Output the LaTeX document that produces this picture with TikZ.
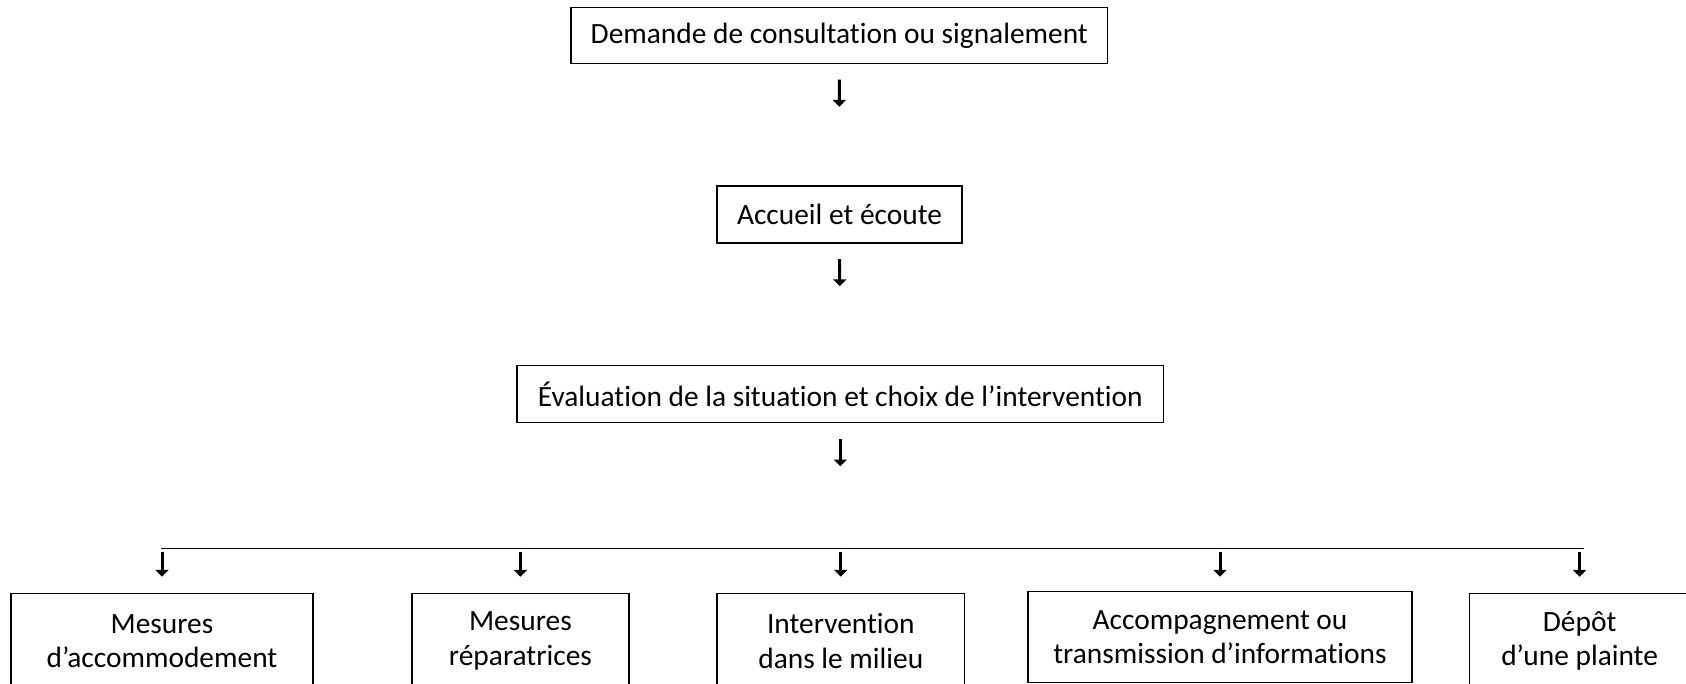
\documentclass[tikz,border=0pt]{standalone}
\usepackage{fontspec}
\setmainfont[Ligatures=NoCommon]{Carlito}
\usetikzlibrary{arrows.meta}
\begin{document}
\begin{tikzpicture}[x=1pt,y=-1pt,
  box/.style={draw,line width=0.6pt,rectangle,inner sep=0pt,align=center,
    font=\fontsize{14.7pt}{17.25pt}\selectfont},
  arr/.style={line width=1.5pt,-{Triangle[length=3.4pt,width=6.5pt]}},
  bar/.style={line width=0.6pt}]
\useasboundingbox (0,0) rectangle (843,342);
\node[box,minimum width=268.25pt,minimum height=28pt] (b1) at (419.65,17.75) {Demande de consultation ou signalement};
\node[box,minimum width=122.5pt,minimum height=28.5pt] (b2) at (419.75,107.25) {Accueil et écoute};
\node[box,minimum width=323.25pt,minimum height=28.5pt] (b3) at (420.15,197) {Évaluation de la situation et choix de l’intervention};
\node[box,minimum width=151pt,minimum height=47.5pt] (c1) at (81,320.5) {Mesures\\d’accommodement};
\node[box,minimum width=108.5pt,minimum height=47.5pt] (c2) at (260.2,320.5) {Mesures\\réparatrices};
\node[box,minimum width=123.75pt,minimum height=47.5pt] (c3) at (420.4,320.5) {Intervention\\dans le milieu};
\node[box,minimum width=192pt,minimum height=45.75pt] (c4) at (610,318.5) {Accompagnement ou\\transmission d’informations};
\node[box,minimum width=110.5pt,minimum height=47.5pt] (c5) at (789.8,320.5) {Dépôt\\d’une plainte};
\coordinate (hl) at (80.5,274.2);
\coordinate (hr) at (792,274.2);
\coordinate (hm) at (b3.south |- hl);
\draw[bar] (hl) -- (hr);
\draw[arr,shorten <=7.75pt,shorten >=39.35pt] (b1.south) -- (b2.north);
\draw[arr,shorten <=7.75pt,shorten >=39.35pt] (b2.south) -- (b3.north);
\draw[arr,shorten <=7.75pt,shorten >=41.05pt] (b3.south) -- (hm);
\foreach \c/\s in {c1/8.1,c2/8.1,c3/8.1,c4/7,c5/8.1}{
  \coordinate (t\c) at (\c.north |- hl);
  \draw[arr,shorten <=1.65pt,shorten >=\s pt] (t\c) -- (\c.north);
}
\end{tikzpicture}
\end{document}
